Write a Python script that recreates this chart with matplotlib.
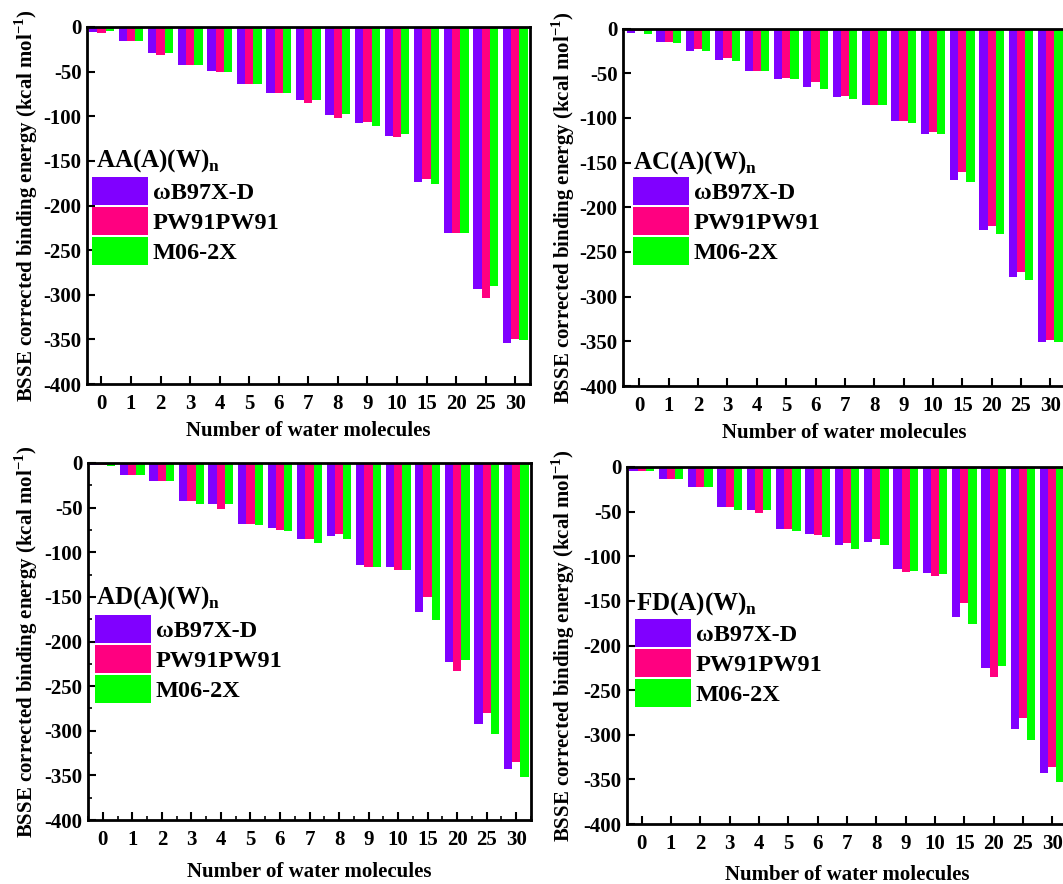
import numpy as np
import matplotlib
matplotlib.use("Agg")
import matplotlib.pyplot as plt
from matplotlib.patches import Patch
from matplotlib.ticker import MultipleLocator

plt.rcParams['font.family'] = ['Liberation Serif', 'DejaVu Serif']
plt.rcParams['font.weight'] = 'bold'
plt.rcParams['axes.labelweight'] = 'bold'
plt.rcParams['mathtext.fontset'] = 'custom'
plt.rcParams['mathtext.rm'] = 'Liberation Serif:bold'
plt.rcParams['mathtext.bf'] = 'Liberation Serif:bold'
plt.rcParams['axes.unicode_minus'] = False

# number of water molecules
categories = ['0', '1', '2', '3', '4', '5', '6', '7', '8', '9', '10', '15', '20', '25', '30']
methods = ['ωB97X-D', 'PW91PW91', 'M06-2X']
colors = ['#8000FF', '#FF0080', '#00FF00']

# BSSE corrected binding energies (kcal/mol)
aa_wb97 = [-6, -16, -29, -43, -49, -64, -74, -82, -99, -108, -122, -174, -231, -294, -354]
aa_pw91 = [-7, -16, -31, -43, -50, -64, -74, -85, -102, -107, -123, -170, -231, -304, -350]
aa_m06 = [-5, -16, -29, -43, -50, -64, -74, -82, -97, -111, -120, -176, -231, -290, -351]

ac_wb97 = [-5, -15, -25, -35, -47, -57, -65, -77, -86, -104, -118, -169, -225, -278, -351]
ac_pw91 = [-3, -15, -23, -33, -47, -55, -60, -75, -86, -103, -116, -160, -221, -272, -349]
ac_m06 = [-6, -16, -25, -36, -48, -57, -68, -79, -86, -106, -118, -172, -230, -281, -351]

ad_wb97 = [-2, -13, -20, -43, -46, -68, -73, -85, -82, -114, -117, -167, -223, -292, -343]
ad_pw91 = [-2, -13, -20, -43, -51, -68, -75, -85, -80, -117, -120, -150, -233, -280, -335]
ad_m06 = [-3, -13, -20, -46, -46, -70, -76, -90, -85, -116, -120, -176, -221, -304, -352]

fd_wb97 = [-4, -14, -22, -45, -48, -70, -75, -87, -84, -114, -119, -168, -225, -294, -343]
fd_pw91 = [-4, -14, -22, -45, -52, -70, -76, -85, -81, -118, -122, -152, -235, -281, -336]
fd_m06 = [-4, -14, -22, -48, -48, -72, -78, -92, -87, -116, -120, -176, -223, -306, -353]

W, H = 1063, 884


def px(x, y):
    return x / W, 1 - y / H


def panel(fig, box, series, name, title_xy, patch_xy, ylabel_x, xlabel_pad, minor, xlim):
    left, top, right, bottom = box
    ax = fig.add_axes([left / W, 1 - bottom / H, (right - left) / W, (bottom - top) / H])
    x = np.arange(len(categories))
    width = 0.28
    for i, (vals, c) in enumerate(zip(series, colors)):
        ax.bar(x + (i - 1) * width, vals, width, color=c, linewidth=0)

    ax.set_xlim(*xlim)
    ax.set_ylim(-400, 0)
    ax.set_xticks(x)
    ax.set_xticklabels(categories)
    ax.set_yticks(np.arange(-400, 1, 50))
    ax.tick_params(direction='in', length=6, width=1.5, labelsize=15)
    ax.tick_params(axis='x', pad=7)
    ax.tick_params(axis='y', pad=4)
    if minor:
        ax.yaxis.set_minor_locator(MultipleLocator(25))
        ax.xaxis.set_minor_locator(MultipleLocator(0.5))
        ax.tick_params(which='minor', direction='in', length=3, width=1.2)
    for s in ax.spines.values():
        s.set_linewidth(2)

    ax.set_xlabel('Number of water molecules', fontsize=15, labelpad=xlabel_pad)
    ax.set_ylabel('BSSE corrected binding energy (kcal mol$^{-1}$)', fontsize=15)
    ax.yaxis.set_label_coords(*px(ylabel_x, (top + bottom) / 2), transform=fig.transFigure)

    fig.text(*px(*title_xy), name + '$_{\\mathbf{n}}$', fontsize=18, va='center', ha='left')
    handles = [Patch(facecolor=c, edgecolor='none') for c in colors]
    ax.legend(handles, methods, loc='upper left', bbox_to_anchor=px(*patch_xy),
              bbox_transform=fig.transFigure, frameon=False, fontsize=17.5,
              handlelength=2.3, handleheight=1.4, labelspacing=0.08,
              handletextpad=0.2, borderpad=0, borderaxespad=0)
    return ax


fig = plt.figure(figsize=(W / 100, H / 100), dpi=100)

panel(fig, (87, 27, 530, 384), [aa_wb97, aa_pw91, aa_m06], 'AA(A)(W)',
      (96, 161), (92, 177), 40, 5, False, (-0.49, 14.5))
panel(fig, (623, 28.5, 1065, 386), [ac_wb97, ac_pw91, ac_m06], 'AC(A)(W)',
      (633, 163), (633, 177), 577, 5, False, (-0.56, 14.5))
panel(fig, (88, 463, 531, 820), [ad_wb97, ad_pw91, ad_m06], 'AD(A)(W)',
      (96, 598), (95, 615), 40, 9, True, (-0.5, 14.5))
panel(fig, (627, 467, 1067, 824), [fd_wb97, fd_pw91, fd_m06], 'FD(A)(W)',
      (636, 604), (635, 619), 577, 8, False, (-0.5, 14.5))

fig.savefig('out.png', dpi=100)
